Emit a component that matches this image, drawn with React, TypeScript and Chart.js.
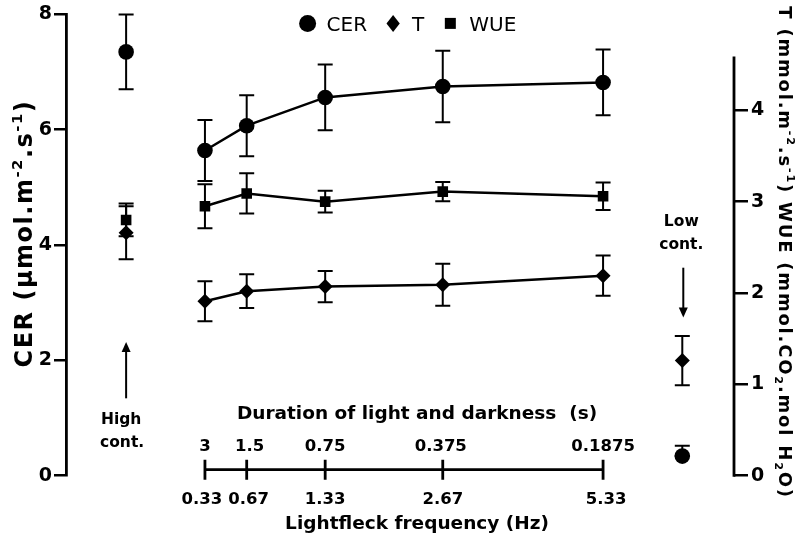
import React, { useEffect, useRef } from 'react';
import { Chart, registerables } from 'chart.js';

Chart.register(...registerables);

// ---- data ----
// Position of each treatment along the original (non-uniformly drawn) frequency axis, in % of plot width
const freqPos = [20.8, 27.05, 38.8, 56.4, 80.4];
const freqLabels = ['0.33', '0.67', '1.33', '2.67', '5.33'];
const durationLabels = ['3', '1.5', '0.75', '0.375', '0.1875'];

const cerMean = [5.64, 6.07, 6.56, 6.75, 6.82];
const cerErr = [0.53, 0.53, 0.57, 0.62, 0.57];
const tMean = [1.91, 2.02, 2.07, 2.09, 2.19];
const tErr = [0.22, 0.185, 0.17, 0.23, 0.22];
const wueMean = [2.95, 3.09, 3.0, 3.11, 3.06];
const wueErr = [0.24, 0.22, 0.12, 0.105, 0.15];

// Controls: [High cont., Low cont.]; errors as [below, above]
const controlPos = [9.0, 92.26];
const cerControl = [7.35, 0.34];
const cerControlErr: [number, number][] = [[0.65, 0.65], [0, 0.18]];
const tControl = [2.66, 1.26];
const tControlErr: [number, number][] = [[0.29, 0.29], [0.27, 0.27]];
const wueControlPos = [9.0];
const wueControl = [2.8];
const wueControlErr: [number, number][] = [[0.18, 0.18]];

// small horizontal nudges of the bottom-axis labels, as typeset in the original
const freqLabelNudge = [-3, 2, 0, 0, 3];
const durationLabelNudge = [0, 3, 0, -2, 0];

const FONT = '"DejaVu Sans", "Liberation Sans", sans-serif';

type Seg = { t: string; script?: 'sup' | 'sub' };

function drawRichText(ctx: CanvasRenderingContext2D, segs: Seg[], cx: number, cy: number, rot: number, size: number, spacing: number) {
  ctx.save();
  ctx.translate(cx, cy);
  ctx.rotate(rot);
  ctx.fillStyle = '#000';
  ctx.textBaseline = 'alphabetic';
  ctx.textAlign = 'left';
  (ctx as any).letterSpacing = spacing + 'px';
  const fontFor = (s: Seg) => `bold ${s.script ? size * 0.62 : size}px ${FONT}`;
  let total = 0;
  const widths = segs.map((s) => {
    ctx.font = fontFor(s);
    const w = ctx.measureText(s.t).width;
    total += w;
    return w;
  });
  let x = -total / 2;
  const base = size * 0.364;
  segs.forEach((s, i) => {
    ctx.font = fontFor(s);
    const dy = s.script === 'sup' ? -size * 0.42 : s.script === 'sub' ? size * 0.22 : 0;
    ctx.fillText(s.t, x, base + dy);
    x += widths[i];
  });
  ctx.restore();
}

const errorBarPlugin = {
  id: 'errorBars',
  beforeDatasetsDraw(chart: any) {
    const ctx: CanvasRenderingContext2D = chart.ctx;
    const xs = chart.scales.x;
    chart.data.datasets.forEach((ds: any) => {
      const errs: any[] | undefined = ds.errors;
      if (!errs) return;
      const ys = chart.scales[ds.yAxisID];
      ds.data.forEach((pt: any, i: number) => {
        const e = errs[i];
        if (e == null) return;
        const lo = Array.isArray(e) ? e[0] : e;
        const hi = Array.isArray(e) ? e[1] : e;
        const px = xs.getPixelForValue(pt.x);
        const top = ys.getPixelForValue(pt.y + hi);
        const bot = ys.getPixelForValue(pt.y - lo);
        const cap = 7.5;
        ctx.save();
        ctx.strokeStyle = '#000';
        ctx.lineWidth = 2;
        ctx.beginPath();
        ctx.moveTo(px, top);
        ctx.lineTo(px, bot);
        ctx.moveTo(px - cap, top);
        ctx.lineTo(px + cap, top);
        ctx.moveTo(px - cap, bot);
        ctx.lineTo(px + cap, bot);
        ctx.stroke();
        ctx.restore();
      });
    });
  },
};

function drawMarker(ctx: CanvasRenderingContext2D, style: string, x: number, y: number, r: number) {
  ctx.beginPath();
  if (style === 'circle') {
    ctx.arc(x, y, r, 0, Math.PI * 2);
  } else if (style === 'rectRot') {
    ctx.moveTo(x, y - r);
    ctx.lineTo(x + r * 0.78, y);
    ctx.lineTo(x, y + r);
    ctx.lineTo(x - r * 0.78, y);
    ctx.closePath();
  } else {
    ctx.rect(x - r, y - r, 2 * r, 2 * r);
  }
  ctx.fill();
}

const decorPlugin = {
  id: 'decor',
  afterDraw(chart: any) {
    const ctx: CanvasRenderingContext2D = chart.ctx;
    const ca = chart.chartArea;
    const xs = chart.scales.x;
    const yL = chart.scales.y;
    const yR = chart.scales.y1;
    ctx.save();
    ctx.fillStyle = '#000';
    ctx.strokeStyle = '#000';

    // right axis line (drawn only up to ~4.6)
    ctx.lineWidth = 2.8;
    ctx.beginPath();
    ctx.moveTo(yR.left, yR.getPixelForValue(0) + 1);
    ctx.lineTo(yR.left, yR.getPixelForValue(4.59));
    ctx.stroke();

    // ---- legend ----
    const legendDs = chart.data.datasets.slice(0, 3);
    const legendR: Record<string, number> = { circle: 8.5, rectRot: 8.5, rect: 5.5 };
    ctx.font = `20px ${FONT}`;
    ctx.textBaseline = 'alphabetic';
    ctx.textAlign = 'left';
    const widths = legendDs.map((d: any) => ctx.measureText(d.label).width);
    let total = 0;
    widths.forEach((w: number, i: number) => {
      total += 27 + w + (i < widths.length - 1 ? 18 : 0);
    });
    let cursor = (ca.left + ca.right) / 2 + 8 - total / 2;
    const ly = ca.top + 9;
    legendDs.forEach((d: any, i: number) => {
      drawMarker(ctx, d.pointStyle, cursor + 8, ly, legendR[d.pointStyle]);
      ctx.fillText(d.label, cursor + 27, ly + 20 * 0.364);
      cursor += 27 + widths[i] + 18;
    });

    // ---- custom bottom axis ----
    const lineY = ca.bottom - 6;
    const xA = xs.getPixelForValue(freqPos[0]);
    const xB = xs.getPixelForValue(freqPos[freqPos.length - 1]);
    ctx.lineWidth = 2.8;
    ctx.beginPath();
    ctx.moveTo(xA, lineY);
    ctx.lineTo(xB, lineY);
    freqPos.forEach((p) => {
      const px = xs.getPixelForValue(p);
      ctx.moveTo(px, lineY - 10);
      ctx.lineTo(px, lineY + 10);
    });
    ctx.stroke();
    ctx.textAlign = 'center';
    ctx.font = `bold 16.5px ${FONT}`;
    freqPos.forEach((p, i) => {
      const px = xs.getPixelForValue(p);
      ctx.fillText(durationLabels[i], px + durationLabelNudge[i], lineY - 25 + 16.5 * 0.364);
      ctx.fillText(freqLabels[i], px + freqLabelNudge[i], lineY + 28 + 16.5 * 0.364);
    });
    const midX = (xA + xB) / 2 + 13;
    ctx.font = `bold 18.5px ${FONT}`;
    ctx.fillText('Duration of light and darkness  (s)', midX, lineY - 57 + 18.5 * 0.364);
    ctx.fillText('Lightfleck frequency (Hz)', midX, lineY + 53 + 18.5 * 0.364);

    // ---- control annotations ----
    ctx.font = `bold 15.5px ${FONT}`;
    const arrow = (x: number, y0: number, y1: number) => {
      const dir = y1 < y0 ? -1 : 1;
      ctx.lineWidth = 2;
      ctx.beginPath();
      ctx.moveTo(x, y0);
      ctx.lineTo(x, y1 - dir * 8);
      ctx.stroke();
      ctx.beginPath();
      ctx.moveTo(x, y1);
      ctx.lineTo(x - 4.5, y1 - dir * 10);
      ctx.lineTo(x + 4.5, y1 - dir * 10);
      ctx.closePath();
      ctx.fill();
    };
    const hx = xs.getPixelForValue(controlPos[0]);
    ctx.fillText('High', hx - 5, yL.getPixelForValue(0.905));
    ctx.fillText('cont.', hx - 4, yL.getPixelForValue(0.5));
    arrow(hx, yL.getPixelForValue(1.342), yL.getPixelForValue(2.318));
    const lx = xs.getPixelForValue(controlPos[1]);
    ctx.fillText('Low', lx - 1, yR.getPixelForValue(2.736));
    ctx.fillText('cont.', lx - 1, yR.getPixelForValue(2.481));
    arrow(lx + 1, yR.getPixelForValue(2.277), yR.getPixelForValue(1.732));

    // ---- axis titles ----
    const midY = (ca.top + ca.bottom) / 2;
    drawRichText(
      ctx,
      [{ t: 'CER (μmol.m' }, { t: '-2', script: 'sup' }, { t: '.s' }, { t: '-1', script: 'sup' }, { t: ')' }],
      23, midY - 11.5, -Math.PI / 2, 24, 1.5
    );
    drawRichText(
      ctx,
      [
        { t: 'T (mmol.m' }, { t: '-2', script: 'sup' }, { t: '.s' }, { t: '-1', script: 'sup' },
        { t: ') WUE (mmol.CO' }, { t: '2', script: 'sub' }, { t: '.mol H' }, { t: '2', script: 'sub' }, { t: 'O)' },
      ],
      786, midY + 7.5, Math.PI / 2, 18, 1.8
    );
    ctx.restore();
  },
};

export default function App() {
  const ref = useRef<HTMLCanvasElement>(null);
  useEffect(() => {
    const black = '#000';
    const main = (label: string, mean: number[], err: number[], axis: string, style: string, r: number) => ({
      label,
      data: freqPos.map((x, i) => ({ x, y: mean[i] })),
      errors: err,
      yAxisID: axis,
      showLine: true,
      borderColor: black,
      backgroundColor: black,
      borderWidth: 2.5,
      pointStyle: style,
      pointRadius: r,
      pointBorderWidth: 0,
      pointBackgroundColor: black,
    });
    const ctrl = (label: string, pos: number[], mean: number[], err: [number, number][], axis: string, style: string, r: number) => ({
      label,
      data: pos.map((x, i) => ({ x, y: mean[i] })),
      errors: err,
      yAxisID: axis,
      showLine: false,
      borderColor: black,
      backgroundColor: black,
      pointStyle: style,
      pointRadius: r,
      pointBorderWidth: 0,
      pointBackgroundColor: black,
    });
    const chart = new Chart(ref.current as HTMLCanvasElement, {
      type: 'scatter',
      data: {
        datasets: [
          main('CER', cerMean, cerErr, 'y', 'circle', 7.8),
          main('T', tMean, tErr, 'y1', 'rectRot', 7.5),
          main('WUE', wueMean, wueErr, 'y1', 'rect', 7.5),
          ctrl('CER control', controlPos, cerControl, cerControlErr, 'y', 'circle', 7.8),
          ctrl('WUE control', wueControlPos, wueControl, wueControlErr, 'y1', 'rect', 7.5),
          ctrl('T control', controlPos, tControl, tControlErr, 'y1', 'rectRot', 7.5),
        ] as any,
      },
      options: {
        responsive: false,
        devicePixelRatio: 1,
        animation: false,
        layout: { padding: { top: 12.7, bottom: 62.3, left: 0, right: 0 } },
        plugins: { legend: { display: false }, tooltip: { enabled: false } },
        font: { family: FONT } as any,
        scales: {
          x: { type: 'linear', min: 0, max: 100, display: false },
          y: {
            position: 'left',
            min: 0,
            max: 8,
            ticks: { stepSize: 2, color: black, padding: 2, font: { size: 19, weight: 'bold', family: FONT } },
            grid: { drawOnChartArea: false, drawTicks: true, tickLength: 12, color: black, lineWidth: 2.5 },
            border: { display: true, color: black, width: 2.8 },
            afterFit(s: any) { s.width = 66; },
          },
          y1: {
            position: 'right',
            min: 0,
            max: 5.05,
            afterBuildTicks(s: any) { s.ticks = [0, 1, 2, 3, 4].map((v) => ({ value: v })); },
            ticks: { color: black, padding: 3, font: { size: 19, weight: 'bold', family: FONT } },
            grid: { drawOnChartArea: false, drawTicks: true, tickLength: 14, color: black, lineWidth: 2.5 },
            border: { display: false },
            afterFit(s: any) { s.width = 67; },
          },
        } as any,
      },
      plugins: [errorBarPlugin, decorPlugin],
    });
    return () => chart.destroy();
  }, []);
  return (
    <div style={{ position: 'fixed', left: 0, top: 0, width: 801, height: 538, background: '#fff' }}>
      <canvas ref={ref} width={801} height={538} style={{ display: 'block', width: 801, height: 538 }} />
    </div>
  );
}
